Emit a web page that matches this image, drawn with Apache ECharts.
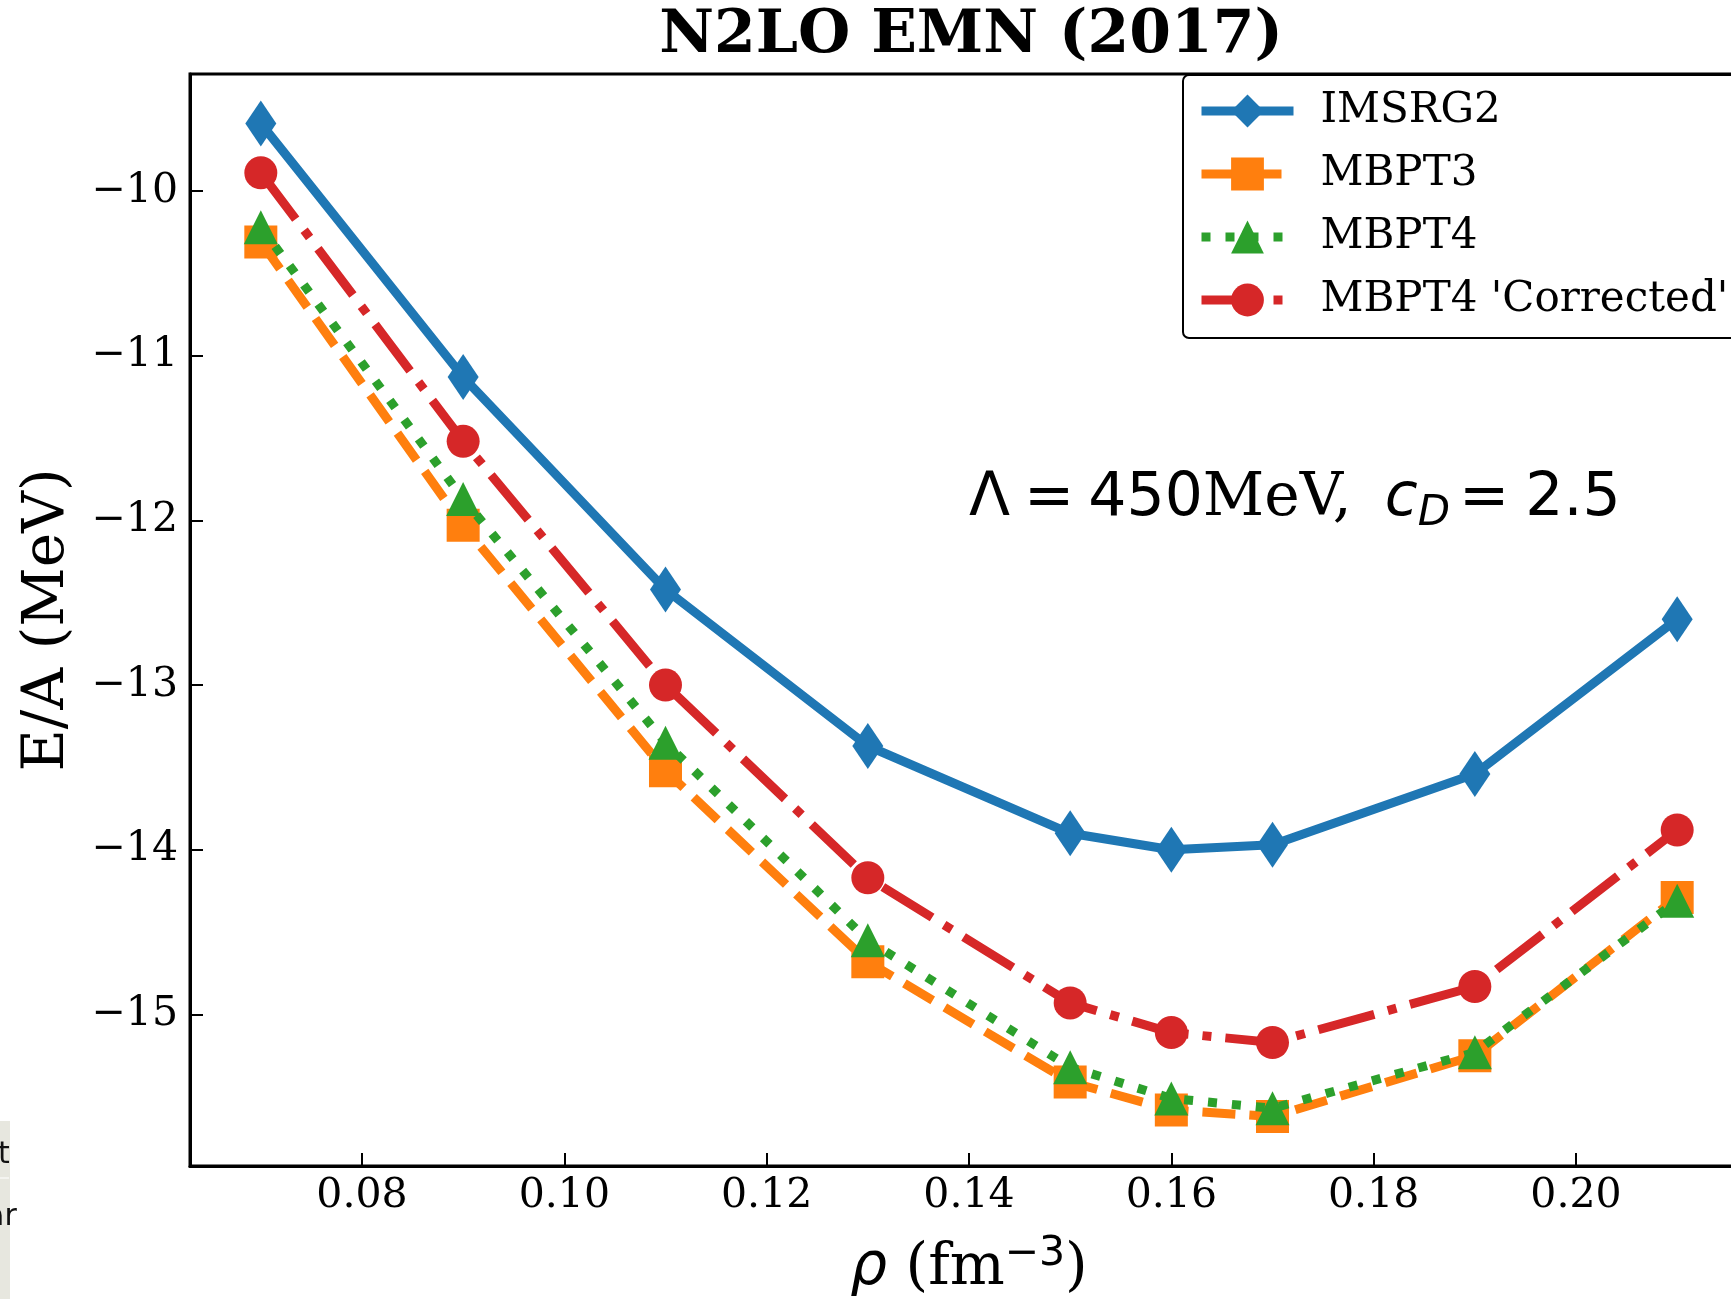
<!DOCTYPE html>
<html>
<head>
<meta charset="utf-8">
<script src="https://cdn.jsdelivr.net/npm/echarts@6/dist/echarts.min.js"></script>
<style>
html, body { margin: 0; padding: 0; width: 1731px; height: 1299px; overflow: hidden; background: #fff; }
#chart { width: 1800px; height: 1299px; }
</style>
</head>
<body>
<div id="chart"></div>
<script>
// density values (fm^-3)
const rho = [0.07, 0.09, 0.11, 0.13, 0.15, 0.16, 0.17, 0.19, 0.21];
// E/A (MeV)
const imsrg2    = [-9.59, -11.13, -12.42, -13.37, -13.90, -14.00, -13.97, -13.54, -12.60];
const mbpt3     = [-10.31, -12.03, -13.52, -14.68, -15.41, -15.58, -15.62, -15.25, -14.29];
const mbpt4     = [-10.22, -11.87, -13.35, -14.55, -15.32, -15.51, -15.57, -15.23, -14.31];
const corrected = [-9.89, -11.52, -13.00, -14.17, -14.93, -15.11, -15.17, -14.83, -13.88];
const seriesNames = ['IMSRG2', 'MBPT3', 'MBPT4', "MBPT4 'Corrected'"];
const xTicks = [0.08, 0.10, 0.12, 0.14, 0.16, 0.18, 0.20];
const yTicks = [-15, -14, -13, -12, -11, -10];

const pairs = ys => rho.map((x, i) => [x, ys[i]]);
const SERIF = '"DejaVu Serif", serif';
const SANS = '"DejaVu Sans", sans-serif';
const LW = 9;

const chart = echarts.init(document.getElementById('chart'));
chart.setOption({
  animation: false,
  backgroundColor: '#fff',
  title: {
    text: 'N2LO EMN (2017)',
    left: 966,
    textAlign: 'center',
    top: 1,
    textStyle: { fontFamily: SERIF, fontWeight: 'bold', fontSize: 60, color: '#000' }
  },
  grid: {
    left: 190, top: 74, width: 1558, height: 1092,
    outerBoundsMode: 'none', containLabel: false,
    show: true, borderColor: '#000', borderWidth: 3, backgroundColor: 'transparent'
  },
  legend: {
    orient: 'vertical',
    left: 1183, top: 75,
    itemWidth: 92, itemHeight: 41, itemGap: 21,
    padding: [15, 40, 17, 14],
    borderColor: '#000', borderWidth: 2, borderRadius: 6,
    backgroundColor: '#fff',
    selectedMode: false,
    data: seriesNames,
    lineStyle: { width: LW, cap: 'butt' },
    textStyle: { fontFamily: SERIF, fontSize: 42, color: '#000', lineHeight: 41, padding: [0, 0, 0, 22] }
  },
  xAxis: {
    type: 'value', min: 0.063, max: 0.217,
    splitLine: { show: false },
    axisLine: { show: true, onZero: false, lineStyle: { color: '#000', width: 3 } },
    axisTick: { show: true, inside: true, length: 13, customValues: xTicks, lineStyle: { color: '#000', width: 2 } },
    axisLabel: { customValues: xTicks, margin: 10, fontFamily: SERIF, fontSize: 41, color: '#000',
      formatter: v => v.toFixed(2) },
    name: '{i|ρ}{s| (fm}{sup|−3}{s|)}',
    nameLocation: 'middle', nameGap: 68, nameMoveOverlap: false,
    nameTextStyle: {
      rich: {
        i: { fontFamily: SANS, fontStyle: 'italic', fontSize: 58, color: '#000', lineHeight: 70 },
        s: { fontFamily: SERIF, fontSize: 58, color: '#000', lineHeight: 70 },
        sup: { fontFamily: SANS, fontSize: 41, color: '#000', lineHeight: 41, verticalAlign: 'top' }
      }
    }
  },
  yAxis: {
    type: 'value', min: -15.92, max: -9.29,
    splitLine: { show: false },
    axisLine: { show: true, onZero: false, lineStyle: { color: '#000', width: 3 } },
    axisTick: { show: true, inside: true, length: 13, customValues: yTicks, lineStyle: { color: '#000', width: 2 } },
    axisLabel: { customValues: yTicks, margin: 12, fontFamily: SERIF, fontSize: 41, color: '#000',
      formatter: v => (v < 0 ? '\u2212' + Math.abs(v) : String(v)) },
    name: 'E/A (MeV)',
    nameLocation: 'middle', nameGap: 113, nameRotate: 90, nameMoveOverlap: false,
    nameTextStyle: { fontFamily: SERIF, fontSize: 58, color: '#000' }
  },
  graphic: [
    {
      type: 'text', x: 969, y: 499, z: 50,
      style: {
        text: '{a|Λ}{eq|=}{a|450}{s|MeV,}{sp| }{i|c}{sub|D}{eq2|=}{a|2.5}',
        textVerticalAlign: 'middle',
        fontFamily: SANS, fontSize: 60,
        rich: {
          a: { fontFamily: SANS, fontSize: 60, fill: '#000', lineHeight: 72 },
          eq: { fontFamily: SANS, fontSize: 60, fill: '#000', lineHeight: 72, padding: [0, 14, 0, 14] },
          eq2: { fontFamily: SANS, fontSize: 60, fill: '#000', lineHeight: 72, padding: [0, 16, 0, 9] },
          s: { fontFamily: SERIF, fontSize: 60, fill: '#000', lineHeight: 72 },
          sp: { fontFamily: SERIF, fontSize: 60, fill: '#000', lineHeight: 72, padding: [0, 14, 0, 0] },
          i: { fontFamily: SANS, fontStyle: 'italic', fontSize: 60, fill: '#000', lineHeight: 72 },
          sub: { fontFamily: SANS, fontStyle: 'italic', fontSize: 42, fill: '#000', lineHeight: 42, verticalAlign: 'bottom' }
        }
      }
    },
    { type: 'rect', shape: { x: 0, y: 1121, width: 10, height: 178 }, style: { fill: '#e7e7df' }, z: 50 },
    { type: 'rect', shape: { x: 0, y: 1177, width: 9, height: 2 }, style: { fill: '#f4f4f0' }, z: 51 },
    { type: 'text', x: -2, y: 1140, z: 51, style: { text: 't', fontFamily: SANS, fontSize: 30, fill: '#111' } },
    { type: 'text', x: -14, y: 1202, z: 51, style: { text: 'ar', fontFamily: SANS, fontSize: 30, fill: '#111' } }
  ],
  series: [
    {
      name: seriesNames[0], type: 'line', data: pairs(imsrg2), z: 2,
      symbol: 'diamond', symbolSize: [31, 46],
      lineStyle: { color: '#1f77b4', width: LW, type: 'solid', cap: 'butt' },
      itemStyle: { color: '#1f77b4' }
    },
    {
      name: seriesNames[1], type: 'line', data: pairs(mbpt3), z: 3,
      symbol: 'rect', symbolSize: 33,
      lineStyle: { color: '#ff7f0e', width: LW, type: [33, 14], cap: 'butt' },
      itemStyle: { color: '#ff7f0e' }
    },
    {
      name: seriesNames[2], type: 'line', data: pairs(mbpt4), z: 4,
      symbol: 'triangle', symbolSize: [34, 34],
      lineStyle: { color: '#2ca02c', width: LW, type: [9, 15], cap: 'butt' },
      itemStyle: { color: '#2ca02c' }
    },
    {
      name: seriesNames[3], type: 'line', data: pairs(corrected), z: 5,
      symbol: 'circle', symbolSize: 33,
      lineStyle: { color: '#d62728', width: LW, type: [58, 14, 9, 14], cap: 'butt' },
      itemStyle: { color: '#d62728' }
    }
  ]
});
</script>
</body>
</html>
